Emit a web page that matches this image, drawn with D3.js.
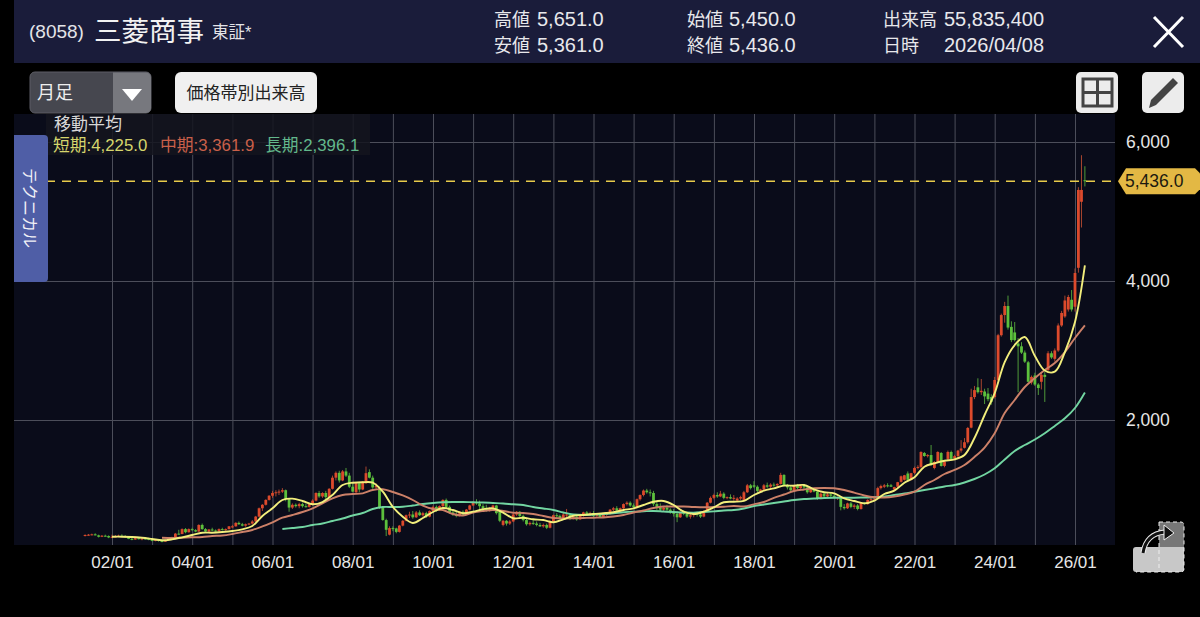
<!DOCTYPE html>
<html>
<head>
<meta charset="utf-8">
<script src="https://cdn.jsdelivr.net/npm/d3@7"></script>
<style>
html,body{margin:0;padding:0;background:#000;overflow:hidden;}
text{font-family:"Liberation Sans","Noto Sans CJK JP",sans-serif;}
</style>
</head>
<body>
<div id="chart"></div>
<script>
// monthly candles, 2001/05 to 2026/04, one row per year
const opens = [
340,345,350,355,340,320,335,330,
310,320,325,335,330,315,290,280,300,285,295,290,
275,265,275,260,250,275,290,310,365,360,430,385,
430,415,395,490,430,395,425,410,400,430,420,430,
455,470,520,500,480,500,510,540,610,730,780,850,
910,950,960,970,990,860,740,780,760,790,760,750,
790,840,950,900,950,890,1010,1170,1240,1130,1260,1200,
1040,960,1090,1000,1090,1250,1170,1030,1020,735,560,350,
445,440,390,480,550,630,640,600,670,630,660,610,
690,750,700,760,850,750,670,640,620,680,640,710,
770,820,800,760,730,700,720,770,680,490,550,510,
540,640,680,620,560,500,520,510,490,470,490,450,
540,630,620,590,640,640,590,610,570,630,670,650,
660,620,640,600,640,650,710,730,700,730,790,810,
770,750,860,920,985,960,950,790,740,710,740,710,
680,650,600,670,650,610,630,650,640,610,690,810,
880,920,900,940,880,890,870,840,870,850,960,1060,
1060,1040,980,1000,1060,1040,1070,1060,1080,1210,1065,1030,
990,1060,1020,1050,1030,960,1000,970,870,940,900,930,
910,880,890,750,730,800,750,770,720,810,790,850,
860,900,1020,1040,1060,1060,1000,1040,1110,1140,1230,1140,
1240,1310,1325,1525,1480,1496,1310,1396,1525,1340,1440,1540,
1445,1480,1560,1600,1680,1890,2330,2470,2400,2410,2380,2330,
2330,2576,3220,3510,3640,3340,3260,3100,3060,2970,2830,2540,
2640,2510,2550,2650,2720,2960,2880,3000,3360,3490,3590,3730,
3630,4190,5140,5450];
const highs = [
355,360,365,370,350,345,350,340,
350,345,350,355,345,330,310,310,315,305,310,305,
290,285,285,275,280,300,320,375,420,440,445,440,
450,430,500,510,445,430,450,425,440,450,440,475,
490,530,540,520,510,520,560,620,740,790,860,920,
980,990,1000,1020,1000,880,800,800,810,810,800,800,
860,960,980,960,980,1020,1200,1260,1270,1280,1310,1240,
1090,1100,1110,1120,1330,1290,1200,1090,1040,750,580,470,
470,450,490,560,640,680,690,690,700,680,680,700,
770,770,770,860,870,770,700,680,690,700,720,780,
830,860,840,790,780,750,780,780,700,560,560,560,
660,690,690,640,580,540,560,540,520,510,510,560,
640,660,640,660,720,650,630,620,640,680,690,680,
690,660,660,650,670,720,750,760,740,800,830,830,
800,870,930,1000,1010,1000,980,830,800,750,780,730,
720,690,680,700,680,660,670,680,660,700,820,900,
940,960,980,960,900,930,920,890,910,980,1080,1080,
1120,1060,1010,1080,1100,1090,1100,1090,1240,1220,1080,1050,
1070,1080,1070,1080,1040,1010,1020,980,960,950,950,960,
930,900,900,790,810,820,790,790,820,820,860,880,
900,1040,1070,1080,1090,1080,1040,1110,1200,1210,1260,1240,
1330,1350,1550,1540,1510,1640,1410,1550,1540,1410,1560,1560,
1500,1570,1710,1740,1900,2450,2490,2600,2590,2450,2460,2370,
2620,3240,3530,3700,3790,3420,3410,3180,3120,3000,2850,2640,
2680,2530,2680,2690,2990,2990,3030,3390,3570,3790,3800,3870,
4180,5350,5810,5651];
const lows = [
325,335,340,340,310,315,325,300,
300,310,315,320,310,285,270,275,280,270,280,270,
255,255,250,240,245,270,280,305,350,355,370,380,
400,385,390,420,385,390,400,390,395,410,405,425,
445,465,490,470,465,490,495,530,600,690,770,840,
880,900,920,950,830,680,720,740,730,740,740,740,
770,830,880,880,860,880,1000,1130,1100,1120,1180,1020,
960,950,960,990,1080,1160,1010,990,720,550,330,340,
400,370,380,470,540,590,580,590,620,610,590,600,
680,680,690,720,730,650,620,600,610,620,630,700,
760,780,700,700,680,680,700,640,530,470,480,490,
530,620,600,540,480,480,490,470,460,450,430,440,
530,590,570,580,600,560,570,550,560,610,620,620,
600,600,590,590,620,640,690,680,680,720,770,750,
720,740,840,900,940,900,760,700,680,690,690,650,
610,530,590,630,590,580,600,610,590,600,680,800,
860,880,890,860,860,860,840,820,850,840,950,1000,
1020,960,950,990,1020,1000,1040,1040,1070,1050,1000,960,
970,1000,1010,1010,940,950,960,850,860,880,890,890,
870,850,700,710,720,730,720,700,710,780,780,830,
830,890,1000,1020,1030,1040,980,1020,1100,1130,1120,1130,
1220,1290,1300,1470,1460,1340,1290,1380,1330,1320,1420,1430,
1420,1450,1530,1590,1660,1880,2300,2380,2360,2230,2270,2220,
2310,2560,3200,3400,3300,3120,3130,2400,2950,2820,2540,2510,
2490,2360,2440,2260,2700,2880,2840,2980,3340,3470,3560,3560,
3560,4120,4770,5361];
const closes = [
345,350,355,340,320,335,330,310,
320,325,335,330,315,290,280,300,285,295,290,275,
265,275,260,250,275,290,310,365,360,430,385,430,
415,395,490,430,395,425,410,400,430,420,430,470,
470,520,500,480,500,510,540,610,730,780,850,910,
950,960,970,990,860,740,780,760,790,760,750,790,
840,950,900,950,890,1010,1170,1240,1130,1260,1200,1040,
970,1090,1000,1110,1235,1170,1030,1050,735,561,420,445,
440,390,480,550,630,640,600,670,630,660,610,690,
750,700,760,850,750,670,640,620,680,640,710,770,
820,800,760,730,700,720,770,660,550,550,510,540,
640,680,620,560,500,520,510,490,470,490,450,540,
630,620,590,640,640,590,610,570,630,670,650,660,
620,640,600,640,650,710,730,700,730,790,810,770,
750,860,920,985,960,950,790,740,710,740,710,680,
650,600,670,650,610,630,650,640,610,690,810,880,
920,900,940,880,890,870,880,870,890,960,1060,1020,
1040,980,1000,1060,1040,1070,1060,1080,1210,1065,1030,990,
1060,1020,1050,1030,960,1000,970,870,940,900,930,910,
880,890,750,730,800,750,770,720,810,790,850,860,
870,1020,1050,1060,1050,1040,1035,1105,1190,1205,1140,1235,
1310,1325,1540,1482,1495,1352,1396,1540,1338,1400,1540,1440,
1480,1560,1590,1680,1885,2330,2430,2400,2420,2340,2300,2260,
2576,3220,3510,3640,3330,3150,3150,3060,2970,2840,2550,2620,
2510,2460,2650,2620,2960,2900,3000,3360,3540,3720,3770,3590,
4115,5310,5310,5436];

// moving averages read every 3 months (Jan, Apr, Jul, Oct)
const maShort = [ // from 2002/01
321,321,317,306, 288,269,283,312, 345,378,378,388, 403,427,475,619,
729,849,868,835, 787,820,921,1065, 1098,1104,1098,968, 748,609,518,590,
676,734,705,658, 681,715,729,666, 586,594,571,561, 528,571,623,633,
647,658,672,705, 729,777,824,835, 777,681,647,681, 744,816,824,835,
921,983,1017,1055, 1055,1065,1003,960, 945,873,835,801, 839,935,983,1098,
1176,1328,1377,1414, 1434,1496,1741,2072, 2388,2834,3079,3194, 2921,2712,2695,2978,
3410,4225];
const maMid = [ // from 2003/04
306,302,306, 312,317,331,338, 360,388,417,468,
528,594,633,676, 729,801,873,921, 935,945,993,1003, 964,914,849,767,
719,705,647,626, 669,691,705,691, 666,662,647,619, 590,583,586,590,
594,597,611,633, 669,698,734,755, 755,755,748,744, 748,752,763,755,
787,820,878,928, 978,1000,1017,1022, 1017,993,954,914, 888,885,899,928,
968,1065,1137,1223, 1281,1352,1468,1604, 1809,2101,2288,2475, 2604,2719,2820,2978,
3180,3362];
const maLong = [ // from 2006/04
432,446,460, 489,511,547,583, 626,662,719,748, 748,752,770,791,
806,816,820,820, 816,813,806,799, 787,777,748,727, 705,669,640,633,
640,647,658,672, 681,686,691,683, 676,669,666,676, 686,698,705,727,
763,784,806,827, 849,863,870,878, 882,882,882,885, 888,899,921,942,
968,993,1017,1043, 1065,1101,1151,1216, 1305,1432,1554,1640, 1719,1809,1914,2024,
2173,2396];

const priceTicks = [2000, 4000, 6000];
const lastPrice = 5436;
const headerCols = [
  {x: 494, vx: 537, rows: [["高値", "5,651.0"], ["安値", "5,361.0"]]},
  {x: 687, vx: 729, rows: [["始値", "5,450.0"], ["終値", "5,436.0"]]},
  {x: 883, vx: 944, rows: [["出来高", "55,835,400"], ["日時", "2026/04/08"]]}
];
const legendItems = [
  {label: "短期:4,225.0", x: 53, color: "#d6d66c"},
  {label: "中期:3,361.9", x: 160, color: "#c9604a"},
  {label: "長期:2,396.1", x: 265, color: "#62b88c"}
];

const svg = d3.select("#chart").append("svg").attr("width", 1200).attr("height", 617);
const plot = {l: 14, r: 1115, t: 114, b: 545};

const firstMonth = new Date(2001, 4, 1);
const months = d3.timeMonth.range(firstMonth, new Date(2026, 4, 1));
const x = d3.scaleTime().domain([new Date(2002, 0, 1), new Date(2026, 0, 1)]).range([112, 1075]);
const y = d3.scaleLinear().domain([0, 6000]).range([559, 142]);

svg.append("rect").attr("width", 1200).attr("height", 617).attr("fill", "#000");
// header
svg.append("rect").attr("x", 14).attr("y", 0).attr("width", 1186).attr("height", 63).attr("fill", "#1a1c3a");
svg.append("text").attr("x", 29).attr("y", 38).attr("font-size", 19).attr("fill", "#e4e4e8").text("(8058)");
svg.append("text").attr("x", 94).attr("y", 41).attr("font-size", 27.5).attr("fill", "#f2f2f2").text("三菱商事");
svg.append("text").attr("x", 212).attr("y", 38).attr("font-size", 16.5).attr("fill", "#e4e4e8").text("東証*");
headerCols.forEach(c => {
  c.rows.forEach((r, i) => {
    svg.append("text").attr("x", c.x).attr("y", 26 + i * 26).attr("font-size", 18).attr("fill", "#e8e8ec").text(r[0]);
    svg.append("text").attr("x", c.vx).attr("y", 26 + i * 26).attr("font-size", 20).attr("fill", "#e8e8ec").text(r[1]);
  });
});
svg.append("path").attr("d", "M1154,17L1183,47M1183,17L1154,47").attr("stroke", "#fff").attr("stroke-width", 3).attr("fill", "none");

// controls
svg.append("rect").attr("x", 30).attr("y", 72).attr("width", 121).attr("height", 41).attr("rx", 5).attr("fill", "#46474f").attr("stroke", "#5c5d66");
svg.append("path").attr("d", "M113,72.5H146a5,5 0 0 1 5,5V108a5,5 0 0 1 -5,5H113Z").attr("fill", "#77787e");
svg.append("path").attr("d", "M122,89H142L132,101Z").attr("fill", "#fff");
svg.append("text").attr("x", 37).attr("y", 99).attr("font-size", 18).attr("fill", "#eee").text("月足");
svg.append("rect").attr("x", 175).attr("y", 72).attr("width", 142).attr("height", 41).attr("rx", 6).attr("fill", "#f0f0f0");
svg.append("text").attr("x", 246).attr("y", 99).attr("text-anchor", "middle").attr("font-size", 17).attr("fill", "#222").text("価格帯別出来高");
svg.append("rect").attr("x", 1076).attr("y", 72).attr("width", 42).attr("height", 41).attr("rx", 5).attr("fill", "#ececec");
svg.append("path").attr("d", "M1083,79H1112V106H1083ZM1097.5,79V106M1083,92.5H1112").attr("fill", "none").attr("stroke", "#444").attr("stroke-width", 3);
svg.append("rect").attr("x", 1142).attr("y", 72).attr("width", 42).attr("height", 41).attr("rx", 5).attr("fill", "#ececec");
svg.append("path").attr("d", "M1173,78L1178,83L1156,105L1149,108L1151,100Z").attr("fill", "#444");

// plot area
svg.append("rect").attr("x", plot.l).attr("y", plot.t).attr("width", plot.r - plot.l).attr("height", plot.b - plot.t).attr("fill", "#0a0c1a");
svg.append("clipPath").attr("id", "plotClip").append("rect")
  .attr("x", plot.l).attr("y", plot.t).attr("width", plot.r - plot.l).attr("height", plot.b - plot.t);

// yearly grid with a label every second year
const xAxis = d3.axisBottom(x)
  .tickValues(d3.timeYear.range(new Date(2002, 0, 1), new Date(2027, 0, 1)))
  .tickSize(-(plot.b - plot.t))
  .tickPadding(11)
  .tickFormat(d => d.getFullYear() % 2 == 0 ? d3.timeFormat("%y/%m")(d) : "");
const gx = svg.append("g").attr("transform", "translate(0," + plot.b + ")").call(xAxis);
gx.select(".domain").remove();
gx.selectAll("line").attr("stroke", "#4c4e5a").attr("stroke-width", 1);
gx.selectAll("text").attr("font-size", 17).attr("fill", "#e6e6e6");

const yGrid = d3.axisRight(y).tickValues(priceTicks).tickSize(plot.r - plot.l).tickFormat("");
const gy = svg.append("g").attr("transform", "translate(" + plot.l + ",0)").call(yGrid);
gy.select(".domain").remove();
gy.selectAll("line").attr("stroke", "#4c4e5a").attr("stroke-width", 1);

const yAxis = d3.axisRight(y).tickValues(priceTicks).tickSize(0).tickPadding(11).tickFormat(d3.format(","));
const gyl = svg.append("g").attr("transform", "translate(" + plot.r + ",0)").call(yAxis);
gyl.select(".domain").remove();
gyl.selectAll("text").attr("font-size", 17.5).attr("fill", "#e6e6e6");

// legend panel
svg.append("rect").attr("x", 46).attr("y", 114).attr("width", 324).attr("height", 41).attr("fill", "#14151f").attr("opacity", 0.85);

// candles
const marks = svg.append("g").attr("clip-path", "url(#plotClip)");
const red = "#dc4a2c", green = "#5cc03c";
marks.selectAll("line.wick").data(months).join("line")
  .attr("class", "wick")
  .attr("x1", d => x(d)).attr("x2", d => x(d))
  .attr("y1", (d, i) => y(highs[i])).attr("y2", (d, i) => y(lows[i]))
  .attr("stroke", (d, i) => closes[i] >= opens[i] ? "#a8452f" : "#4f9a3a")
  .attr("stroke-width", 1);
marks.selectAll("rect.body").data(months).join("rect")
  .attr("class", "body")
  .attr("x", d => x(d) - 1.4).attr("width", 2.8)
  .attr("y", (d, i) => y(Math.max(opens[i], closes[i])))
  .attr("height", (d, i) => Math.max(1, Math.abs(y(opens[i]) - y(closes[i]))))
  .attr("fill", (d, i) => closes[i] >= opens[i] ? red : green);

// moving averages
const maStartMonth = {short: new Date(2002, 0, 1), mid: new Date(2003, 3, 1), long: new Date(2006, 3, 1)};
const line = d3.line().x(d => x(d[0])).y(d => y(d[1])).curve(d3.curveCatmullRom.alpha(0.5));
function drawMa(values, start, color) {
  const pts = values.map((v, i) => [d3.timeMonth.offset(start, i * 3), v]);
  marks.append("path").attr("d", line(pts)).attr("fill", "none").attr("stroke", color).attr("stroke-width", 1.9);
}
drawMa(maLong, maStartMonth.long, "#72d6a2");
drawMa(maMid, maStartMonth.mid, "#cc8068");
drawMa(maShort, maStartMonth.short, "#f2ee7c");

// last price line and tag
svg.append("line").attr("x1", plot.l).attr("x2", plot.r).attr("y1", y(lastPrice)).attr("y2", y(lastPrice))
  .attr("stroke", "#e8cb4a").attr("stroke-width", 1.6).attr("stroke-dasharray", "9,7");
const ly = y(lastPrice);
svg.append("path").attr("d", "M1118," + ly + "L1126," + (ly - 13) + "H1195L1200," + (ly - 8) + "V" + (ly + 8) + "L1195," + (ly + 13) + "H1126Z").attr("fill", "#e3b844");
svg.append("text").attr("x", 1125).attr("y", ly + 6).attr("font-size", 17.5).attr("fill", "#1c1a10").text("5,436.0");

// left tab
svg.append("path").attr("d", "M14,135H44a4,4 0 0 1 4,4V278a4,4 0 0 1 -4,4H14Z").attr("fill", "#4f5ea6");
svg.append("text").attr("transform", "translate(24,208) rotate(90)").attr("text-anchor", "middle").attr("font-size", 16).attr("fill", "#f0f0f6").text("テクニカル");

// legend text
svg.append("text").attr("x", 54).attr("y", 130).attr("font-size", 17).attr("fill", "#d8d8d8").text("移動平均");
legendItems.forEach(d => {
  svg.append("text").attr("x", d.x).attr("y", 151).attr("font-size", 16.8).attr("fill", d.color).text(d.label);
});

// bottom right icon
svg.append("path").attr("d", "M1159,522H1181a3,3 0 0 1 3,3V547H1159Z").attr("fill", "#777");
svg.append("path").attr("d", "M1136,547H1184V569a3,3 0 0 1 -3,3H1136a3,3 0 0 1 -3,-3V550a3,3 0 0 1 3,-3Z").attr("fill", "#c8c8c8");
svg.append("path").attr("d", "M1159,522H1181a3,3 0 0 1 3,3V569a3,3 0 0 1 -3,3H1136M1159,522V572").attr("fill", "none").attr("stroke", "#eee").attr("stroke-width", 1).attr("stroke-dasharray", "4,3");
svg.append("path").attr("d", "M1143,553C1145,540 1153,533 1165,532").attr("fill", "none").attr("stroke", "#eee").attr("stroke-width", 5);
svg.append("path").attr("d", "M1143,553C1145,540 1153,533 1165,532").attr("fill", "none").attr("stroke", "#111").attr("stroke-width", 3);
svg.append("path").attr("d", "M1164,525L1174,533L1164,540Z").attr("fill", "#111").attr("stroke", "#eee").attr("stroke-width", 1);
</script>
</body>
</html>
